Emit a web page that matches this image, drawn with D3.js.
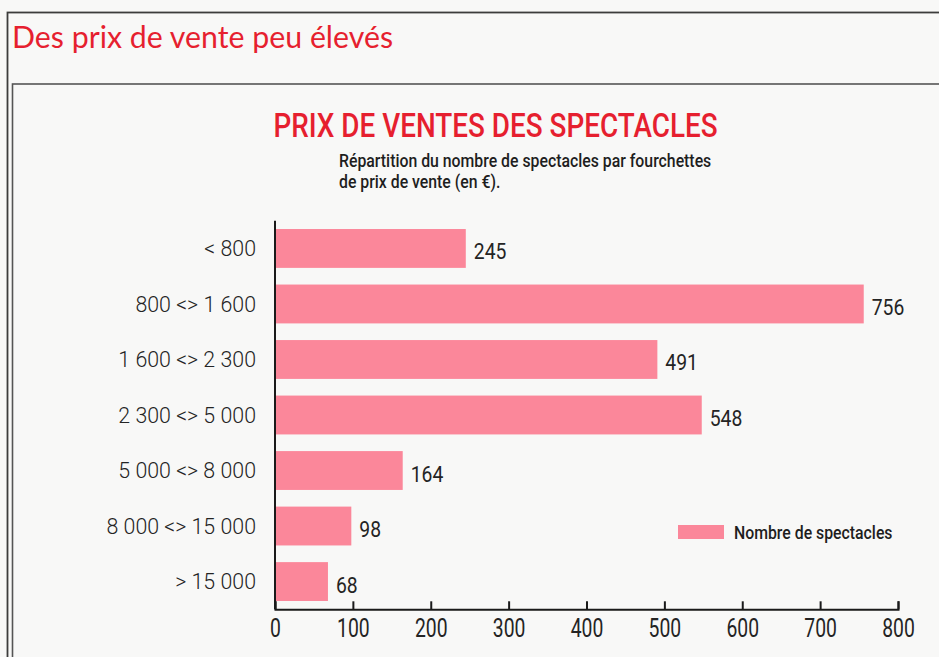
<!DOCTYPE html>
<html>
<head>
<meta charset="utf-8">
<script src="https://cdn.jsdelivr.net/npm/d3@7"></script>
<style>
  html, body { margin: 0; padding: 0; background: #f8f8f7; }
  svg { display: block; }
</style>
</head>
<body>
<svg id="chart" width="939" height="657"></svg>
<script>
// ---- data ----
const categories = ["< 800", "800 <> 1 600", "1 600 <> 2 300", "2 300 <> 5 000", "5 000 <> 8 000", "8 000 <> 15 000", "> 15 000"];
const values = [245, 756, 491, 548, 164, 98, 68];
const tickValues = [0, 100, 200, 300, 400, 500, 600, 700, 800];
const seriesName = "Nombre de spectacles";
const heading = "Des prix de vente peu élevés";
const title = "PRIX DE VENTES DES SPECTACLES";
const subtitleLines = ["Répartition du nombre de spectacles par fourchettes", "de prix de vente (en €)."];

// ---- styles ----
const RED = "#e61f2f";
const PINK = "#fb879a";
const INK = "#242424";
const COND = "Roboto, 'Liberation Sans', sans-serif";

const svg = d3.select("#chart");

function label(parent, x, y, txt, o) {
  return parent.append("text")
    .attr("transform", `translate(${x},${y}) scale(${o.sx || 1},1)`)
    .attr("text-anchor", o.anchor || "start")
    .attr("font-family", o.family || COND)
    .attr("font-size", o.size)
    .attr("font-weight", o.weight || 400)
    .attr("letter-spacing", o.ls || 0)
    .attr("fill", o.fill || INK)
    .text(txt);
}

// frames
svg.append("rect").attr("x", 7.5).attr("y", 12.5).attr("width", 960).attr("height", 700)
  .attr("fill", "none").attr("stroke", "#3c3c3c").attr("stroke-width", 1.8);
svg.append("rect").attr("x", 12.5).attr("y", 84).attr("width", 960).attr("height", 700)
  .attr("fill", "none").attr("stroke", "#555").attr("stroke-width", 1.6);

// heading
label(svg, 12, 48, heading, {size: 30.3, family: "Lato, 'Open Sans', sans-serif", fill: RED});

// title + subtitle
label(svg, 495.5, 136.7, title, {size: 34, sx: 0.82, anchor: "middle", weight: 500, fill: RED});
subtitleLines.forEach((s, i) => {
  label(svg, 339, 166.7 + i * 21.6, s, {size: 17.5, sx: 0.905, weight: 500, fill: "#1e1e1e"});
});

// scales
const x = d3.scaleLinear().domain([0, 800]).range([275, 898]);
const y = d3.scaleBand().domain(categories).range([220.7, 609.3]).paddingInner(0.3).paddingOuter(0.15);

// bars
svg.append("g").selectAll("rect").data(values).join("rect")
  .attr("x", x(0) + 1)
  .attr("y", (d, i) => y(categories[i]))
  .attr("width", d => x(d) - x(0) - 1)
  .attr("height", y.bandwidth())
  .attr("fill", PINK);

// value labels
values.forEach((v, i) => {
  label(svg, x(v) + 8, y(categories[i]) + y.bandwidth() / 2 + 11, String(v), {size: 22.5, sx: 0.86});
});

// category labels
categories.forEach(c => {
  label(svg, 256, y(c) + y.bandwidth() / 2 + 7.8, c, {size: 22.5, sx: 0.95, weight: 300, anchor: "end"});
});

// y axis line
svg.append("line").attr("x1", x(0)).attr("x2", x(0)).attr("y1", 220.7).attr("y2", 609.3)
  .attr("stroke", "#1a1a1a").attr("stroke-width", 2);

// x axis
const xAxis = svg.append("g").attr("transform", "translate(0,609.3)")
  .call(d3.axisBottom(x).tickValues(tickValues).tickSize(-8).tickFormat(d3.format("d")));
xAxis.selectAll("path, line").attr("stroke", "#1a1a1a").attr("stroke-width", 2);
xAxis.selectAll("text")
  .attr("y", 28).attr("dy", 0)
  .attr("transform", "scale(0.73,1)")
  .attr("font-family", COND).attr("font-size", 26.5).attr("fill", INK);

// legend
svg.append("rect").attr("x", 678).attr("y", 525).attr("width", 46).attr("height", 14).attr("fill", PINK);
label(svg, 734, 539, seriesName, {size: 17.5, sx: 0.905, weight: 500, fill: "#1e1e1e"});
</script>
</body>
</html>
